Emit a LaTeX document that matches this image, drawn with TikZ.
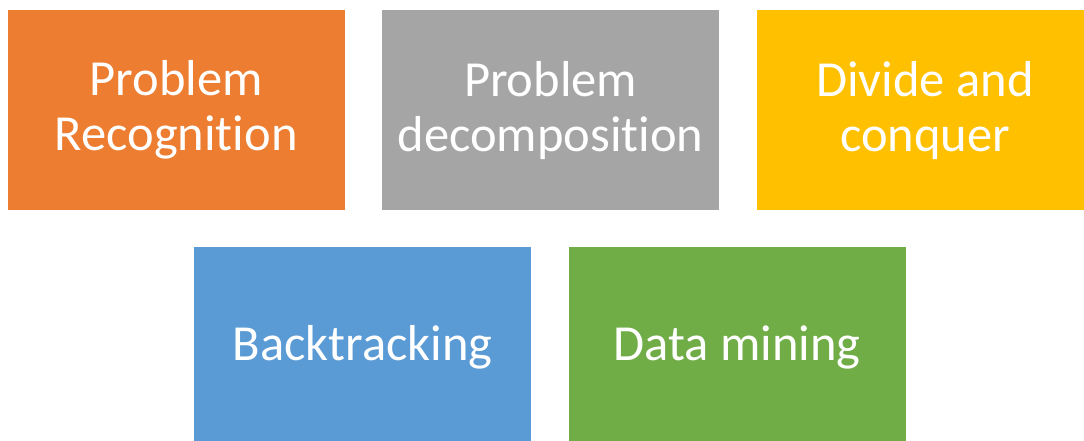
\documentclass[tikz,border=0pt]{standalone}
\usepackage{fontspec}
\setmainfont[Ligatures=NoCommon]{Carlito}
\usetikzlibrary{positioning}
\definecolor{orangebox}{HTML}{ED7D31}
\definecolor{graybox}{HTML}{A5A5A5}
\definecolor{goldbox}{HTML}{FFC000}
\definecolor{bluebox}{HTML}{5B9BD5}
\definecolor{greenbox}{HTML}{70AD47}
\tikzstyle{block} = [rectangle, minimum height=200pt, minimum width=337pt, inner sep=0pt, text=white, align=center, font=\fontsize{50.5}{55}\selectfont]

\begin{document}
\begin{tikzpicture}[x=1pt,y=1pt,node distance=37pt]
    \clip (0,0) rectangle (1084,-441);
    \node [block, fill=orangebox, anchor=north west] (prob) at (7.5,-10) {Problem\\Recognition};
    \node [block, fill=graybox, right=of prob] (decomp) {Problem\\decomposition};
    \node [block, fill=goldbox, right=of decomp] (divide) {Divide and\\conquer};

    \node [block, fill=bluebox, anchor=north west] (back) at (194,-247) {Backtracking};
    \node [block, fill=greenbox, right=of back] (mining) {Data mining};
\end{tikzpicture}
\end{document}
